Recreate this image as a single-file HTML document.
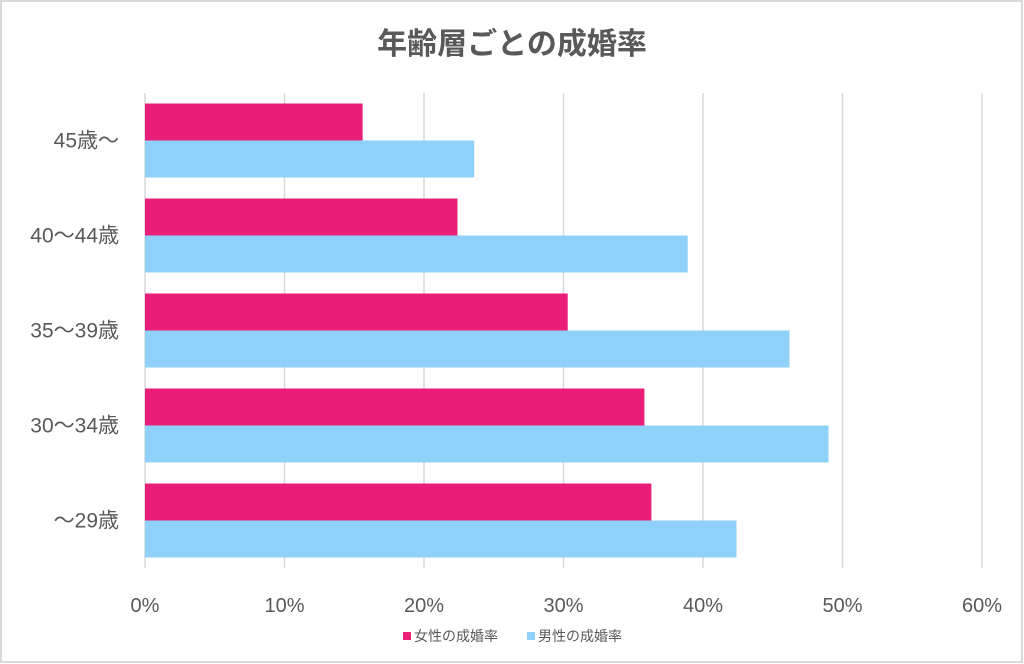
<!DOCTYPE html>
<html><head><meta charset="utf-8"><style>
html,body{margin:0;padding:0;background:#fff;}
svg{display:block;font-family:"Liberation Sans","Noto Sans CJK JP",sans-serif;}
</style></head><body>
<svg id="chart" width="1024" height="664">
<rect x="1" y="1" width="1021" height="661" fill="#fff" stroke="#d9d9d9" stroke-width="2"/>
<text x="512" y="54" text-anchor="middle" font-size="30" font-weight="bold" fill="#595959">年齢層ごとの成婚率</text>
<g id="grid"></g><g id="bars"></g><g id="labels"></g>
<g>
<rect x="403" y="632" width="8" height="8" fill="#E91E78"/>
<text x="414" y="641" font-size="14" fill="#595959">女性の成婚率</text>
<rect x="527" y="632" width="8" height="8" fill="#90D1FA"/>
<text x="538" y="641" font-size="14" fill="#595959">男性の成婚率</text>
</g>
</svg>
<script>
const categories=["45歳〜","40〜44歳","35〜39歳","30〜34歳","〜29歳"];
const female=[15.6,22.4,30.3,35.8,36.3];
const male=[23.6,38.9,46.2,49.0,42.4];
const ticks=[0,10,20,30,40,50,60];
const tickLabels=["0%","10%","20%","30%","40%","50%","60%"];
const NS="http://www.w3.org/2000/svg";
const x0=145,x1=982,yTop=93,band=95,maxV=60;
const xs=v=>x0+(x1-x0)*v/maxV;
function mk(tag,attrs,parent,txt){const e=document.createElementNS(NS,tag);for(const k in attrs)e.setAttribute(k,attrs[k]);if(txt!==undefined)e.textContent=txt;document.getElementById(parent).appendChild(e);return e;}
const yBottom=yTop+band*categories.length;
ticks.forEach((t,i)=>{
 const l=mk("line",{x1:xs(t),x2:xs(t),y1:yTop,y2:yBottom,stroke:"#d9d9d9","stroke-width":1.5},"grid");
 
 
 const tx=mk("text",{x:xs(t),y:612,"text-anchor":"middle","font-size":20,fill:"#595959"},"labels",tickLabels[i]);
 
 
});
categories.forEach((c,i)=>{
 const by=yTop+band*i+10.5;
 const f=mk("rect",{x:x0,y:by,width:xs(female[i])-x0,height:37,fill:"#E91E78"},"bars");
 
 
 const m=mk("rect",{x:x0,y:by+37,width:xs(male[i])-x0,height:37,fill:"#90D1FA"},"bars");
 
 
 const t=mk("text",{x:119,y:yTop+band*i+band/2+7,"text-anchor":"end","font-size":21,fill:"#595959"},"labels",c);
 
 
});
</script>
</body></html>
